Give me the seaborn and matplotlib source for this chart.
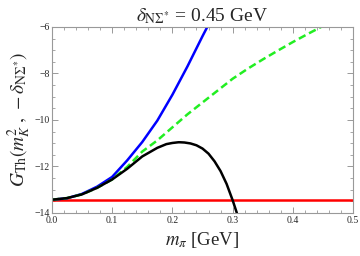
import matplotlib
matplotlib.use('Agg')
import matplotlib.pyplot as plt
import seaborn as sns
from matplotlib.ticker import MultipleLocator

# values
m_blue = [0.0, 0.025, 0.05, 0.075, 0.10, 0.125, 0.15, 0.175, 0.20, 0.225, 0.25, 0.258]
g_blue = [-13.43, -13.37, -13.18, -12.87, -12.45, -11.74, -10.95, -10.03, -8.92, -7.70, -6.40, -6.0]

m_green = [0.0, 0.025, 0.05, 0.075, 0.10, 0.125, 0.15, 0.175, 0.20, 0.225, 0.25, 0.275,
           0.30, 0.325, 0.35, 0.375, 0.40, 0.425, 0.447]
g_green = [-13.43, -13.36, -13.20, -12.92, -12.56, -12.02, -11.36, -10.88, -10.32, -9.76,
           -9.25, -8.74, -8.23, -7.80, -7.40, -7.02, -6.65, -6.30, -6.0]

m_black = [0.0, 0.025, 0.05, 0.075, 0.10, 0.125, 0.15, 0.175, 0.19, 0.20, 0.21, 0.2125,
           0.22, 0.23, 0.24, 0.25, 0.26, 0.27, 0.28, 0.29, 0.30, 0.307]
g_black = [-13.43, -13.36, -13.20, -12.92, -12.56, -12.10, -11.57, -11.20, -11.04, -10.99,
           -10.96, -10.96, -10.97, -11.01, -11.09, -11.23, -11.45, -11.78, -12.20, -12.75,
           -13.45, -14.0]

m_red = [0.0, 0.5]
g_red = [-13.43, -13.43]

sns.set_theme(style='ticks')
plt.rcParams['font.family'] = ['Liberation Serif', 'DejaVu Serif']
plt.rcParams['mathtext.fontset'] = 'stix'

fig, ax = plt.subplots(figsize=(3.6, 2.56), dpi=100)
fig.subplots_adjust(left=0.144, right=0.981, bottom=0.168, top=0.895)

sns.lineplot(x=m_red, y=g_red, ax=ax, color='#ff0000', lw=1.8)
sns.lineplot(x=m_blue, y=g_blue, ax=ax, color='#0000ff', lw=1.8)
ax.plot(m_green, g_green, color='#22ee22', lw=1.8, dashes=(3, 1.6))
sns.lineplot(x=m_black, y=g_black, ax=ax, color='black', lw=1.8)

ax.set_xlim(0, 0.5)
ax.set_ylim(-14, -6)
ax.xaxis.set_major_locator(MultipleLocator(0.1))
ax.xaxis.set_minor_locator(MultipleLocator(0.02))
ax.yaxis.set_major_locator(MultipleLocator(2))
ax.yaxis.set_minor_locator(MultipleLocator(0.5))
ax.xaxis.set_major_formatter(matplotlib.ticker.FormatStrFormatter('%.1f'))
ax.yaxis.set_major_formatter(matplotlib.ticker.FuncFormatter(lambda v, p: '\u2212%d' % abs(v)))

for s in ax.spines.values():
    s.set_color('#999999')
    s.set_linewidth(0.8)
ax.tick_params(which='both', direction='in', top=True, right=True, color='#999999',
               labelsize=7, pad=1.5)
ax.tick_params(axis='x', pad=2.5)
ax.tick_params(which='major', length=4, width=0.7)
ax.tick_params(which='minor', length=2, width=0.6)

ax.set_title(r'$\delta_{\mathrm{N}\Sigma^{*}}$ = 0.45 GeV', fontsize=14, pad=4)
ax.set_xlabel(r'$m_{\pi}$ [GeV]', fontsize=13.5, labelpad=3)
ax.set_ylabel(r'$G_{\mathrm{Th}}(m_{K}^{2}\;,\,-\delta_{\mathrm{N}\Sigma^{*}})$', fontsize=14, labelpad=1)

fig.savefig('out.png', dpi=100)
